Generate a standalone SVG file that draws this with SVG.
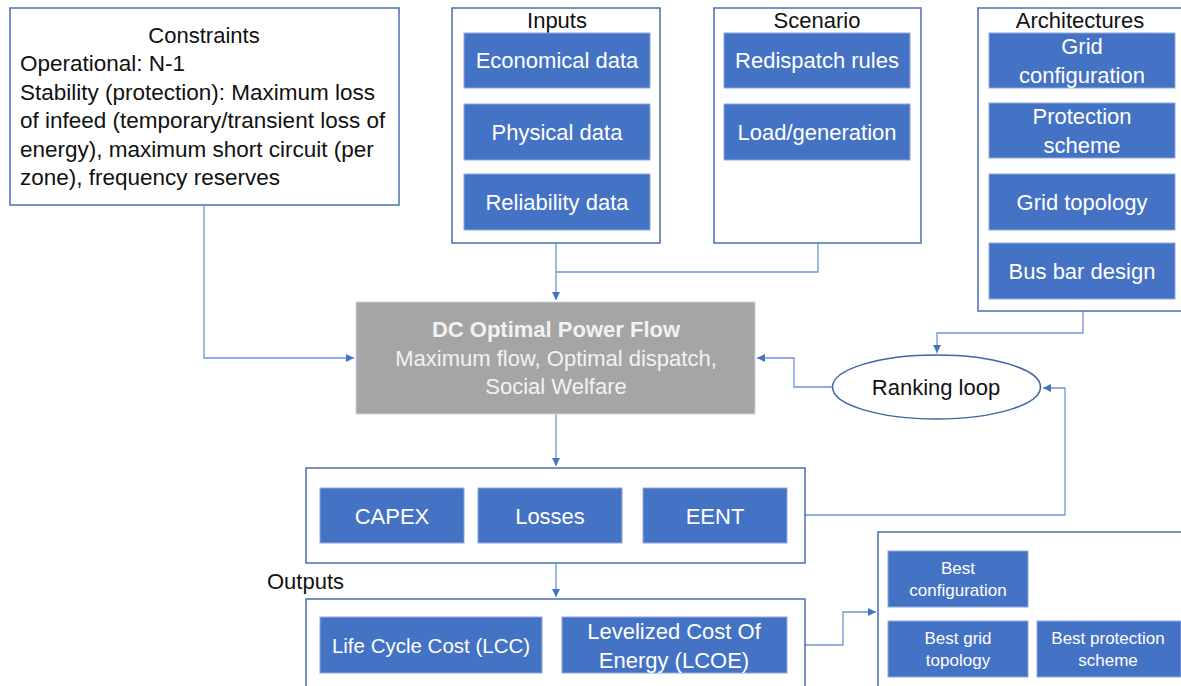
<svg xmlns="http://www.w3.org/2000/svg" width="1181" height="686" viewBox="0 0 1181 686">
  <style>
    .frame { fill: #ffffff; stroke: #4a6eb0; stroke-width: 1.5; }
    .blue { fill: #4472c4; stroke: #8faadc; stroke-width: 1; }
    .wire { fill: none; stroke: #6e95d6; stroke-width: 1.3; }
    text { font-family: "Liberation Sans", Arial, sans-serif; font-size: 22px; }
    .dark { fill: #111111; }
    .light { fill: #ffffff; }
    .mid { text-anchor: middle; }
    .small { font-size: 17px; }
    .body { font-size: 22.5px; }
    .narrow { font-size: 20.5px; }
  </style>
  <defs>
    <marker id="arrow" markerUnits="userSpaceOnUse" markerWidth="10" markerHeight="10" refX="8" refY="4" orient="auto">
      <path d="M0,0 L8,4 L0,8 Z" fill="#4472c4"/>
    </marker>
  </defs>

  <!-- connectors -->
  <g id="connectors">
    <polyline class="wire" points="204,205 204,358 354,358" marker-end="url(#arrow)"/>
    <polyline class="wire" points="818,243 818,272 556,272"/>
    <polyline class="wire" points="556,243 556,300" marker-end="url(#arrow)"/>
    <polyline class="wire" points="1083,311 1083,333 937,333 937,353" marker-end="url(#arrow)"/>
    <polyline class="wire" points="832,387 794,387 794,358 757,358" marker-end="url(#arrow)"/>
    <polyline class="wire" points="805,515 1065,515 1065,388 1043,388" marker-end="url(#arrow)"/>
    <polyline class="wire" points="556,414 556,466" marker-end="url(#arrow)"/>
    <polyline class="wire" points="556,563 556,597" marker-end="url(#arrow)"/>
    <polyline class="wire" points="805,645 843,645 843,612 876,612" marker-end="url(#arrow)"/>
  </g>

  <!-- constraints -->
  <g id="constraints">
    <rect class="frame" x="10" y="8" width="389" height="197"/>
    <text class="dark mid" x="204" y="43">Constraints</text>
    <text class="dark body" x="20" y="71">Operational: N-1</text>
    <text class="dark body" x="20" y="100">Stability (protection): Maximum loss</text>
    <text class="dark body" x="20" y="128">of infeed (temporary/transient loss of</text>
    <text class="dark body" x="20" y="157">energy), maximum short circuit (per</text>
    <text class="dark body" x="20" y="185">zone), frequency reserves</text>
  </g>

  <!-- inputs -->
  <g id="inputs">
    <rect class="frame" x="452" y="8" width="208" height="235"/>
    <text class="dark mid" x="557" y="28">Inputs</text>
    <rect class="blue" x="464" y="33" width="186" height="55"/>
    <text class="light mid" x="557" y="68">Economical data</text>
    <rect class="blue" x="464" y="104" width="186" height="56"/>
    <text class="light mid" x="557" y="140">Physical data</text>
    <rect class="blue" x="464" y="174" width="186" height="56"/>
    <text class="light mid" x="557" y="210">Reliability data</text>
  </g>

  <!-- scenario -->
  <g id="scenario">
    <rect class="frame" x="714" y="8" width="207" height="235"/>
    <text class="dark mid" x="817" y="28">Scenario</text>
    <rect class="blue" x="724" y="33" width="186" height="55"/>
    <text class="light mid" x="817" y="68">Redispatch rules</text>
    <rect class="blue" x="724" y="104" width="186" height="56"/>
    <text class="light mid" x="817" y="140">Load/generation</text>
  </g>

  <!-- architectures -->
  <g id="architectures">
    <rect class="frame" x="978" y="8" width="210" height="303"/>
    <text class="dark mid" x="1080" y="28">Architectures</text>
    <rect class="blue" x="989" y="33" width="186" height="55"/>
    <text class="light mid" x="1082" y="54">Grid</text>
    <text class="light mid" x="1082" y="83">configuration</text>
    <rect class="blue" x="989" y="103" width="186" height="55"/>
    <text class="light mid" x="1082" y="124">Protection</text>
    <text class="light mid" x="1082" y="153">scheme</text>
    <rect class="blue" x="989" y="174" width="186" height="56"/>
    <text class="light mid" x="1082" y="210">Grid topology</text>
    <rect class="blue" x="989" y="243" width="186" height="56"/>
    <text class="light mid" x="1082" y="279">Bus bar design</text>
  </g>

  <!-- optimal power flow -->
  <g id="dc-opf">
    <rect x="356" y="302" width="399" height="112" fill="#a5a5a5" stroke="#c9d3e6" stroke-width="1"/>
    <text class="mid" x="556" y="337" fill="#f2f2f2" font-weight="bold">DC Optimal Power Flow</text>
    <text class="mid" x="556" y="366" fill="#f2f2f2">Maximum flow, Optimal dispatch,</text>
    <text class="mid" x="556" y="394" fill="#f2f2f2">Social Welfare</text>
  </g>

  <!-- ranking loop -->
  <g id="ranking-loop">
    <ellipse cx="936.5" cy="387" rx="104" ry="32" fill="#ffffff" stroke="#3f63a8" stroke-width="1.5"/>
    <text class="dark mid" x="936" y="395">Ranking loop</text>
  </g>

  <!-- cost terms -->
  <g id="cost-terms">
    <rect class="frame" x="306" y="468" width="499" height="95"/>
    <rect class="blue" x="320" y="488" width="144" height="55"/>
    <text class="light mid" x="392" y="524">CAPEX</text>
    <rect class="blue" x="478" y="488" width="144" height="55"/>
    <text class="light mid" x="550" y="524">Losses</text>
    <rect class="blue" x="643" y="488" width="144" height="55"/>
    <text class="light mid" x="715" y="524">EENT</text>
  </g>

  <!-- outputs -->
  <g id="outputs">
    <text class="dark" x="267" y="589">Outputs</text>
    <rect class="frame" x="306" y="599" width="499" height="100"/>
    <rect class="blue" x="320" y="617" width="222" height="56"/>
    <text class="light mid narrow" x="431" y="653">Life Cycle Cost (LCC)</text>
    <rect class="blue" x="562" y="617" width="225" height="56"/>
    <text class="light mid" x="674" y="639">Levelized Cost Of</text>
    <text class="light mid" x="674" y="668">Energy (LCOE)</text>
  </g>

  <!-- best choices -->
  <g id="best">
    <rect class="frame" x="878" y="532" width="310" height="170"/>
    <rect class="blue" x="888" y="551" width="140" height="56"/>
    <text class="light mid small" x="958" y="574">Best</text>
    <text class="light mid small" x="958" y="596">configuration</text>
    <rect class="blue" x="888" y="621" width="140" height="56"/>
    <text class="light mid small" x="958" y="644">Best grid</text>
    <text class="light mid small" x="958" y="666">topology</text>
    <rect class="blue" x="1037" y="621" width="144" height="56"/>
    <text class="light mid small" x="1108" y="644">Best protection</text>
    <text class="light mid small" x="1108" y="666">scheme</text>
  </g>
</svg>
